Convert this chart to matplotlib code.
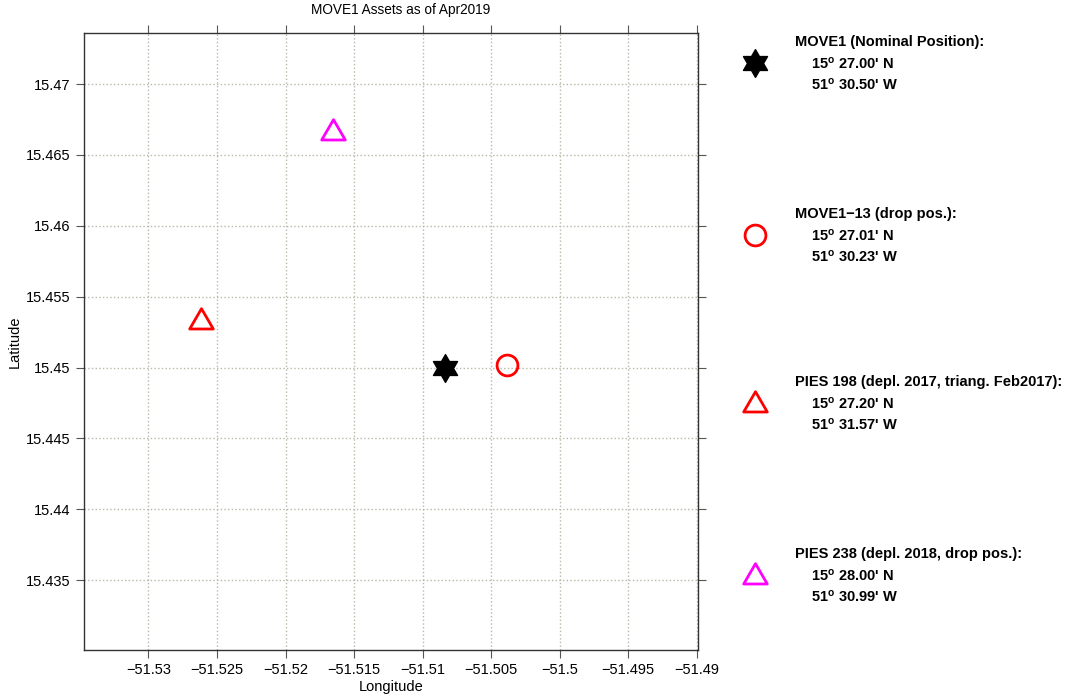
import matplotlib
matplotlib.use('Agg')
import matplotlib.pyplot as plt
import numpy as np
from matplotlib.path import Path
from matplotlib.ticker import MultipleLocator, FuncFormatter

plt.rcParams['font.family'] = ['Liberation Sans', 'DejaVu Sans']
plt.rcParams['mathtext.fontset'] = 'custom'
plt.rcParams['mathtext.bf'] = 'Liberation Sans:bold'
plt.rcParams['mathtext.rm'] = 'Liberation Sans'

# mooring / instrument positions (deg + decimal minutes)
names = ['MOVE1 (Nominal Position):', 'MOVE1\u221213 (drop pos.):',
         'PIES 198 (depl. 2017, triang. Feb2017):',
         'PIES 238 (depl. 2018, drop pos.):']
lat_deg = [15, 15, 15, 15]
lat_min = [27.00, 27.01, 27.20, 28.00]
lon_deg = [51, 51, 51, 51]
lon_min = [30.50, 30.23, 31.57, 30.99]

lat = np.array(lat_deg) + np.array(lat_min) / 60.
lon = -(np.array(lon_deg) + np.array(lon_min) / 60.)

# six pointed star (two triangles)
ang_out = np.deg2rad(90 + 60 * np.arange(6))
ang_in = ang_out + np.deg2rad(30)
r_in = 1 / np.sqrt(3)
verts = []
for a, b in zip(ang_out, ang_in):
    verts.append((np.cos(a), np.sin(a)))
    verts.append((r_in * np.cos(b), r_in * np.sin(b)))
verts.append(verts[0])
hexagram = Path(verts, closed=True)

# equilateral triangle
tri = Path([(-1, -0.72), (1, -0.72), (0, 1.0), (-1, -0.72)], closed=True)

mk = [dict(marker=hexagram, ms=20, mfc='black', mec='black', mew=1),
      dict(marker='o', ms=15, mfc='none', mec='red', mew=2.0),
      dict(marker=tri, ms=17, mfc='none', mec='red', mew=2.0),
      dict(marker=tri, ms=17, mfc='none', mec='magenta', mew=2.0)]

fig = plt.figure(figsize=(10.68, 6.95), dpi=100)
ax = fig.add_axes([0.0787, 0.0647, 0.5749, 0.8878])

for i in range(4):
    ax.plot(lon[i], lat[i], ls='none', **mk[i], zorder=3)

ax.set_xlim(-51.5347, -51.4899)
ax.set_ylim(15.43008, 15.4736)
ax.xaxis.set_major_locator(MultipleLocator(0.005))
ax.yaxis.set_major_locator(MultipleLocator(0.005))
fmt = FuncFormatter(lambda v, p: ('%g' % round(v, 4)).replace('-', '\u2212'))
ax.xaxis.set_major_formatter(fmt)
ax.yaxis.set_major_formatter(fmt)
ax.tick_params(direction='out', length=6, width=0.8, color='#555555',
               labelsize=10.5, top=True, right=True)
ax.grid(True, ls=':', color='#b8b8a8', lw=1)
for s in ax.spines.values():
    s.set_color('#333333')
    s.set_linewidth(1)

ax.set_title('MOVE1 Assets as of Apr2019', fontsize=9.8, pad=14, x=0.516)
ax.set_xlabel('Longitude', fontsize=10.5, labelpad=2)
ax.set_ylabel('Latitude', fontsize=10.5, labelpad=3)

# legend panel on the right
lg = fig.add_axes([0, 0, 1, 1], facecolor='none')
lg.set_axis_off()
lg.set_xlim(0, 1068)
lg.set_ylim(695, 0)
row_y = [63, 235, 403, 575]
for i in range(4):
    lg.plot(755, row_y[i], ls='none', clip_on=False, **mk[i])
    y0 = row_y[i] - 21
    lg.text(795, y0, names[i], fontsize=10.5, fontweight='bold', va='center')
    lg.text(811, y0 + 22, r"$\mathbf{%d^{o}}$ %.2f' N" % (lat_deg[i], lat_min[i]),
            fontsize=10.5, fontweight='bold', va='center')
    lg.text(811, y0 + 43, r"$\mathbf{%d^{o}}$ %.2f' W" % (lon_deg[i], lon_min[i]),
            fontsize=10.5, fontweight='bold', va='center')

fig.savefig('out.png', dpi=100)
